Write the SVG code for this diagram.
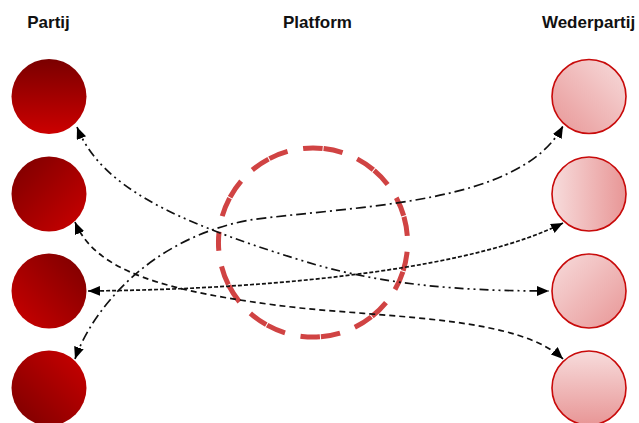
<svg xmlns="http://www.w3.org/2000/svg" width="639" height="423" viewBox="0 0 639 423">
  <defs>
    <style>
      .title { font-family: "Liberation Sans", Arial, sans-serif; font-weight: bold; font-size: 17px; fill: #111; text-anchor: middle; }
      .party { stroke: none; }
      .counter { stroke: #c80a0a; stroke-width: 1.6; }
      .link { fill: none; stroke: #111; stroke-width: 1.7; marker-start: url(#arrow); marker-end: url(#arrow); }
      .dashdotdot { stroke-dasharray: 9 4 2 4 2 4; }
      .dashdot { stroke-dasharray: 10 4 2 4; }
      .dashed { stroke-dasharray: 6 4; }
      .finedash { stroke-dasharray: 4 2; }
      .platform { fill: none; stroke: #d04343; stroke-width: 5; stroke-dasharray: 19.5 1 19.5 15.8; stroke-dashoffset: 40; }
    </style>
    <marker id="arrow" markerUnits="userSpaceOnUse" markerWidth="13" markerHeight="11" refX="12" refY="5" orient="auto-start-reverse">
      <path d="M0,0 L12,5 L0,10 Z" fill="#000"/>
    </marker>
    <!-- dark red fills for the left column -->
    <linearGradient id="dL1" x1="0" y1="0" x2="0" y2="1">
      <stop offset="0" stop-color="#7a0000"/><stop offset="1" stop-color="#cc0000"/>
    </linearGradient>
    <linearGradient id="dL2" x1="0" y1="0" x2="1" y2="1">
      <stop offset="0" stop-color="#7a0000"/><stop offset="1" stop-color="#cc0000"/>
    </linearGradient>
    <linearGradient id="dL3" x1="1" y1="0" x2="0" y2="1">
      <stop offset="0" stop-color="#7a0000"/><stop offset="1" stop-color="#cc0000"/>
    </linearGradient>
    <linearGradient id="dL4" x1="0" y1="1" x2="1" y2="0">
      <stop offset="0" stop-color="#7a0000"/><stop offset="1" stop-color="#cc0000"/>
    </linearGradient>
    <!-- light red fills for the right column -->
    <linearGradient id="lR1" x1="1" y1="0" x2="0" y2="1">
      <stop offset="0" stop-color="#f7dcdc"/><stop offset="1" stop-color="#e89696"/>
    </linearGradient>
    <linearGradient id="lR2" x1="0" y1="0" x2="1" y2="0">
      <stop offset="0" stop-color="#f7dcdc"/><stop offset="1" stop-color="#e89696"/>
    </linearGradient>
    <linearGradient id="lR3" x1="0" y1="0" x2="1" y2="1">
      <stop offset="0" stop-color="#f7dcdc"/><stop offset="1" stop-color="#e89696"/>
    </linearGradient>
    <linearGradient id="lR4" x1="0" y1="0" x2="0" y2="1">
      <stop offset="0" stop-color="#f7dcdc"/><stop offset="1" stop-color="#e89696"/>
    </linearGradient>
  </defs>

  <rect width="639" height="423" fill="#fff"/>

  <!-- column headings -->
  <g id="headings">
    <text class="title" x="48.5" y="28">Partij</text>
    <text class="title" x="317.5" y="28">Platform</text>
    <text class="title" x="588.5" y="28">Wederpartij</text>
  </g>

  <!-- platform ring -->
  <g id="platform">
    <path class="platform" d="M219.1,231.6 A94.5,94.5 0 0 1 406.9,253.4 A94.5,94.5 0 0 1 219.1,231.6"/>
  </g>

  <!-- parties -->
  <g id="partij-1"><circle class="party" cx="49" cy="96.5" r="37.5" fill="url(#dL1)"/></g>
  <g id="partij-2"><circle class="party" cx="49" cy="194" r="37.5" fill="url(#dL2)"/></g>
  <g id="partij-3"><circle class="party" cx="49" cy="291" r="37.5" fill="url(#dL3)"/></g>
  <g id="partij-4"><circle class="party" cx="49" cy="388" r="37.5" fill="url(#dL4)"/></g>

  <!-- counterparties -->
  <g id="wederpartij-1"><circle class="counter" cx="589" cy="96.5" r="37" fill="url(#lR1)"/></g>
  <g id="wederpartij-2"><circle class="counter" cx="589" cy="194" r="37" fill="url(#lR2)"/></g>
  <g id="wederpartij-3"><circle class="counter" cx="589" cy="291" r="37" fill="url(#lR3)"/></g>
  <g id="wederpartij-4"><circle class="counter" cx="589" cy="388" r="37" fill="url(#lR4)"/></g>

  <!-- connections -->
  <g id="connectors">
    <path class="link dashdotdot" d="M77,127 C100,185 170,220 300,260 C380,285 460,291 549,291"/>
    <path class="link dashdot" d="M75,359 C92,310 150,238 250,220 C360,205 520,205 563,126"/>
    <path class="link dashed" d="M75,222 C95,270 160,292 300,308 C400,318 520,318 563,359"/>
    <path class="link finedash" d="M88,291 C300,289 480,265 563,223"/>
  </g>
</svg>
